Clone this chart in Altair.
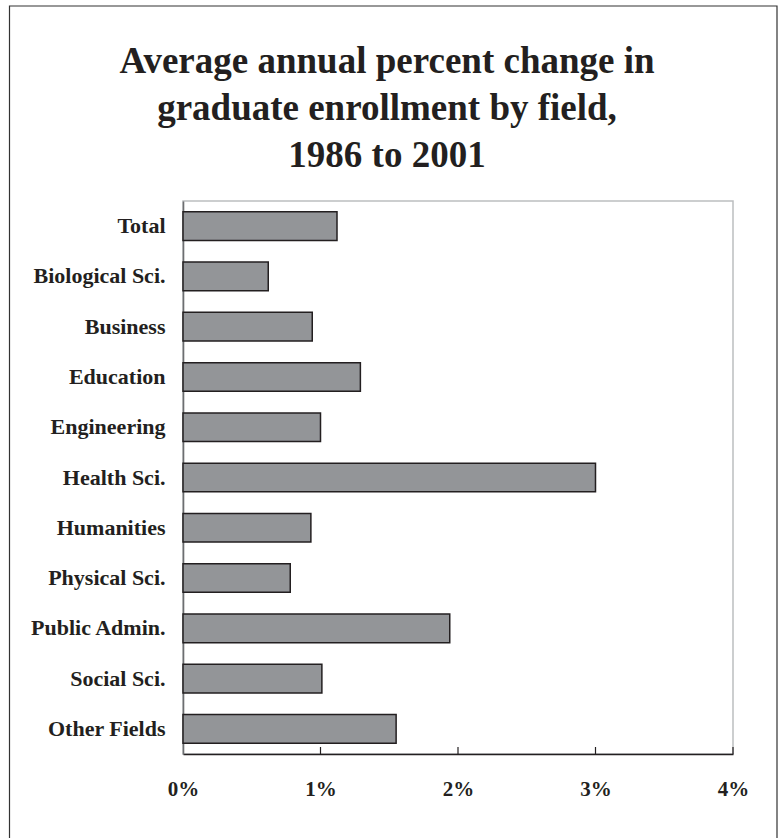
import altair as alt
import pandas as pd

# Fields and their average annual percent change in graduate enrollment, 1986-2001
fields = [
    "Total", "Biological Sci.", "Business", "Education", "Engineering",
    "Health Sci.", "Humanities", "Physical Sci.", "Public Admin.",
    "Social Sci.", "Other Fields",
]
pct_change = [1.12, 0.62, 0.94, 1.29, 1.00, 3.00, 0.93, 0.78, 1.94, 1.01, 1.55]

tick_values = [0, 1, 2, 3, 4]

title_lines = [
    "Average annual percent change in",
    "graduate enrollment by field,",
    "1986 to 2001",
]

SERIF = "Liberation Serif"
INK = "#231f20"
PLOT_W, PLOT_H = 550, 553

df = pd.DataFrame({"field": fields, "pct": pct_change})
ticks_df = pd.DataFrame({"v": tick_values[1:]})
one_row = pd.DataFrame({"k": [0]})

x_scale = alt.Scale(domain=[0, 4], nice=False, zero=True)

bars = alt.Chart(df).mark_bar(
    color="#939598", stroke=INK, strokeWidth=1.5
).encode(
    x=alt.X(
        "pct:Q",
        scale=x_scale,
        axis=alt.Axis(
            values=tick_values,
            labelExpr="datum.value + '%'",
            title=None,
            grid=False,
            ticks=False,
            domainColor=INK,
            domainWidth=1.6,
            labelFont=SERIF,
            labelFontWeight="bold",
            labelFontSize=21,
            labelColor=INK,
            labelPadding=24,
            labelFlush=False,
        ),
    ),
    y=alt.Y(
        "field:N",
        sort=None,
        scale=alt.Scale(paddingInner=0.43, paddingOuter=0.215),
        axis=alt.Axis(
            title=None,
            ticks=False,
            domainColor="#6d6e71",
            domainWidth=1.6,
            labelFont=SERIF,
            labelFontWeight="bold",
            labelFontSize=22,
            labelColor=INK,
            labelPadding=18,
        ),
    ),
)

# short inward ticks rising from the bottom axis
inner_ticks = alt.Chart(ticks_df).mark_rule(color=INK, strokeWidth=1.2).encode(
    x=alt.X("v:Q", scale=x_scale),
    y=alt.value(PLOT_H - 7),
    y2=alt.value(PLOT_H),
)

# three-line heading, centred on the whole figure
heading = alt.Chart(one_row).mark_text(
    font=SERIF,
    fontWeight="bold",
    fontSize=37,
    lineHeight=47,
    color=INK,
    align="center",
    baseline="top",
    clip=False,
).encode(
    x=alt.value(204),
    y=alt.value(-157.5),
    text=alt.value(title_lines),
)

# thin frame around the whole figure
frame = alt.Chart(one_row).mark_rect(
    fill=None, stroke="#333333", strokeWidth=1.2, clip=False
).encode(
    x=alt.value(-173.5),
    x2=alt.value(594),
    y=alt.value(-195),
    y2=alt.value(680),
)

chart = alt.layer(frame, bars, inner_ticks, heading).properties(
    width=PLOT_W,
    height=PLOT_H,
    autosize=alt.AutoSizeParams(type="none"),
    padding={"left": 183, "top": 201, "right": 45, "bottom": 84},
    background="white",
).configure_view(
    stroke="#bcbec0", strokeWidth=1.5
)

chart.save("out.html", embed_options={"renderer": "svg", "actions": False})
